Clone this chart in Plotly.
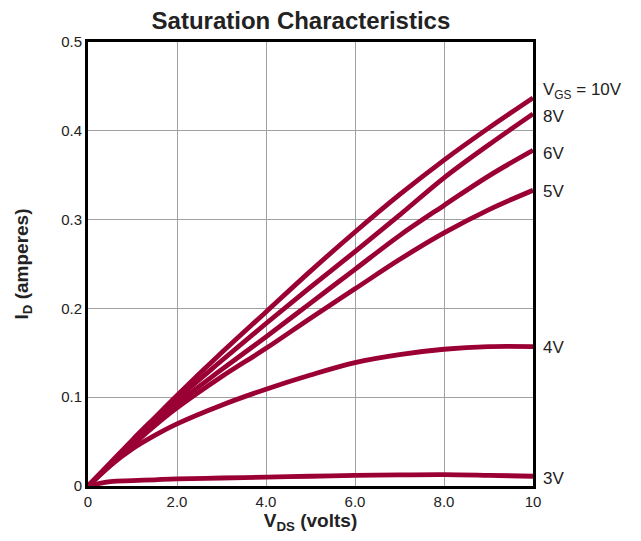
import plotly.graph_objects as go

vds = [0, 0.5, 1, 1.5, 2, 3, 4, 5, 6, 7, 8, 9, 10]
id_10v = [0, 0.026, 0.052, 0.077, 0.102, 0.150, 0.196, 0.242, 0.286, 0.328, 0.367, 0.403, 0.437]
id_8v = [0, 0.025, 0.050, 0.074, 0.098, 0.141, 0.183, 0.224, 0.264, 0.305, 0.347, 0.384, 0.419]
id_6v = [0, 0.024, 0.048, 0.071, 0.093, 0.131, 0.168, 0.206, 0.244, 0.282, 0.316, 0.349, 0.378]
id_5v = [0, 0.023, 0.046, 0.068, 0.088, 0.123, 0.155, 0.189, 0.222, 0.255, 0.285, 0.311, 0.333]
id_4v = [0, 0.023, 0.042, 0.057, 0.070, 0.091, 0.109, 0.125, 0.139, 0.148, 0.154, 0.157, 0.157]
id_3v = [0, 0.005, 0.006, 0.007, 0.008, 0.009, 0.010, 0.011, 0.012, 0.0125, 0.0128, 0.012, 0.011]

series = [id_10v, id_8v, id_6v, id_5v, id_4v, id_3v]
gs_labels = ["V<sub>GS</sub> = 10V", "8V", "6V", "5V", "4V", "3V"]
label_y = [0.445, 0.416, 0.375, 0.332, 0.156, 0.008]

x_ticks = [0, 2, 4, 6, 8, 10]
x_tick_text = ["0", "2.0", "4.0", "6.0", "8.0", "10"]
y_ticks = [0, 0.1, 0.2, 0.3, 0.4, 0.5]
y_tick_text = ["0", "0.1", "0.2", "0.3", "0.4", "0.5"]

color = "#9B0034"
fig = go.Figure()
for s in series:
    fig.add_trace(go.Scatter(x=vds, y=s, mode="lines",
                             line=dict(color=color, width=4.8, shape="spline", smoothing=1.0),
                             showlegend=False, hoverinfo="skip"))

for lab, ly in zip(gs_labels, label_y):
    fig.add_annotation(x=1.0, xref="paper", xshift=8, y=ly, yref="y", text=lab,
                       showarrow=False, xanchor="left", yanchor="middle",
                       font=dict(size=17, color="#222", family="Liberation Sans, Arial"))

fig.update_layout(
    width=641, height=541,
    margin=dict(l=80, r=116, t=34, b=63, autoexpand=False),
    paper_bgcolor="white", plot_bgcolor="white",
    font=dict(family="Liberation Sans, Arial", color="#222"),
    title=dict(text="<b>Saturation Characteristics</b>", x=0.457, xanchor="center",
               y=0.977, yanchor="middle", font=dict(size=24, color="#222")),
)
fig.update_xaxes(range=[0, 10], tickvals=x_ticks, ticktext=x_tick_text,
                 showgrid=True, gridcolor="#a0a0a0", gridwidth=1, automargin=False,
                 showline=True, linecolor="black", linewidth=3, mirror=True,
                 zeroline=False, ticks="", tickfont=dict(size=15, color="#222"),
                 title=dict(text="<b>V<sub>DS</sub> (volts)</b>", font=dict(size=19, color="#222"), standoff=4))
fig.update_yaxes(range=[0, 0.5], tickvals=y_ticks, ticktext=y_tick_text,
                 showgrid=True, gridcolor="#a0a0a0", gridwidth=1, automargin=False,
                 showline=True, linecolor="black", linewidth=3, mirror=True,
                 zeroline=False, ticks="", tickfont=dict(size=15, color="#222"),
                 title=dict(text="<b>I<sub>D</sub> (amperes)</b>", font=dict(size=19, color="#222"), standoff=28))

fig.write_html("out.html")
